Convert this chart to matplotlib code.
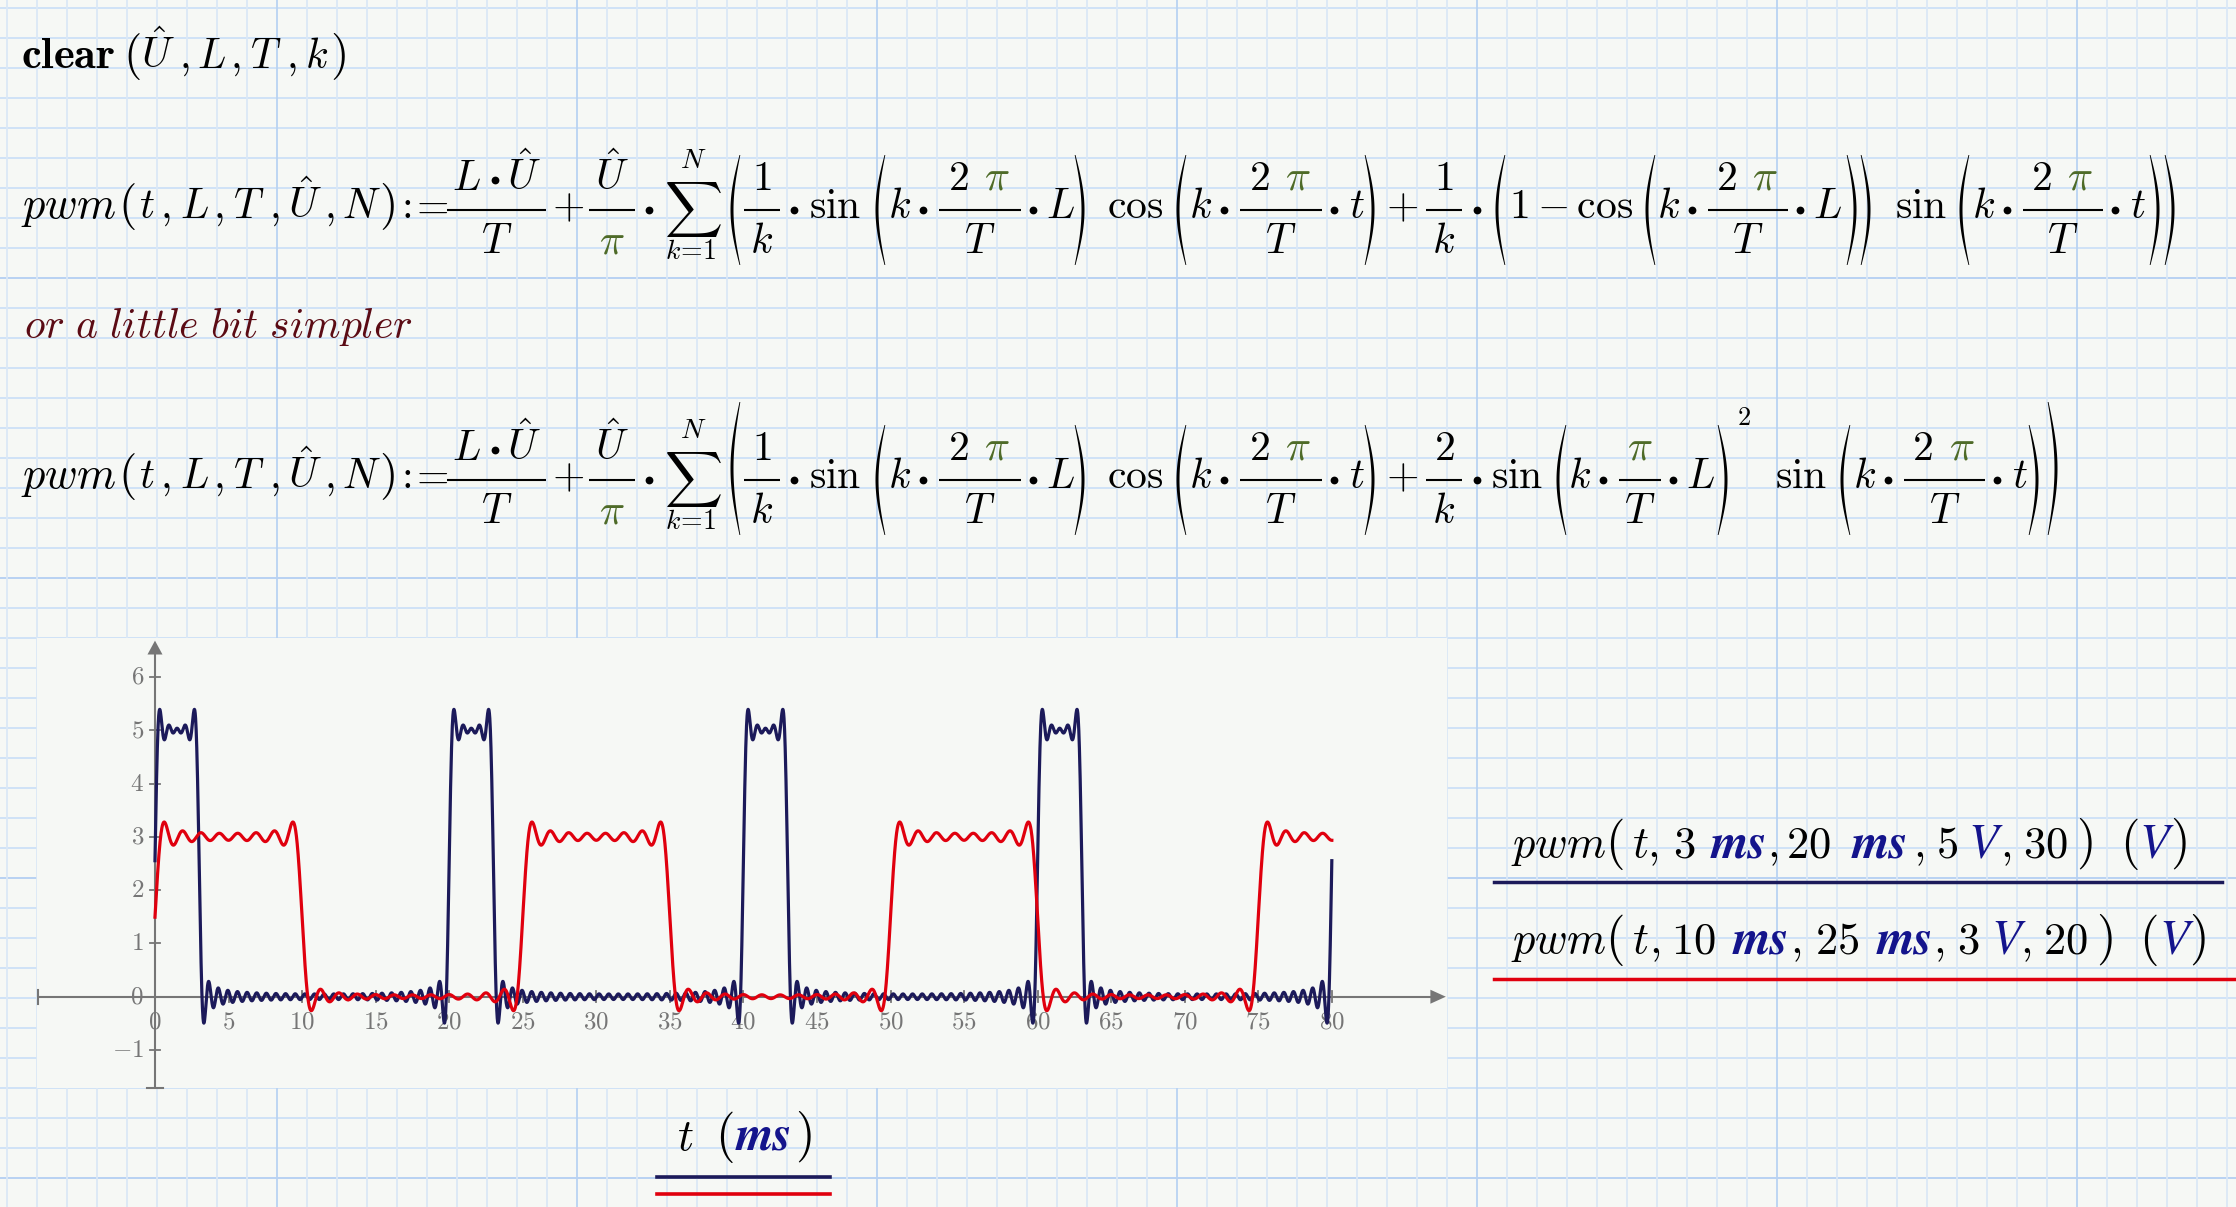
import numpy as np
import matplotlib.pyplot as plt

plt.rcParams['mathtext.fontset'] = 'cm'

# --- data: the two pwm curves as given in the worksheet legend ---
pulse_ms = [3, 10]        # L
period_ms = [20, 25]      # T
amp_V = [5, 3]            # U
harmonics = [30, 20]      # N
t_end_ms = 80
x_ticks = list(range(0, 85, 5))
y_ticks = list(range(-1, 7))

NAVY = '#1c1a5a'
RED = '#e0000e'
GREEN = '#4e6b28'
UNIT = '#14148c'
GRAY = '#767676'
BG = '#f6f8f5'
W, H = 2236, 1207
FS = 30


def pwm(t, L, T, U, N):
    k = np.arange(1, N + 1)[:, None]
    w = 2 * np.pi / T
    s = np.sin(k * w * L) / k * np.cos(k * w * t) + 2 / k * np.sin(k * np.pi / T * L) ** 2 * np.sin(k * w * t)
    return L * U / T + U / np.pi * s.sum(axis=0)


fig = plt.figure(figsize=(W / 100, H / 100), dpi=100, facecolor=BG)
ax0 = fig.add_axes([0, 0, 1, 1])
ax0.set_xlim(0, W)
ax0.set_ylim(H, 0)
ax0.axis('off')

# worksheet grid paper
for n in range(0, 41):
    y = 8.3 + 30 * n
    ax0.axhline(y, color='#b3cff2' if n % 10 == 9 else '#cde0f7', lw=1.3, zorder=0)
for n in range(0, 75):
    x = 7.3 + 30 * n
    ax0.axvline(x, color='#b9d3f2' if n % 10 == 9 else '#dbe8f6', lw=1.3, zorder=0)

uf = dict(family='STIXGeneral', style='italic', weight='bold')
vf = dict(family='STIXGeneral', style='italic')


def T_(x, y, s, c='black', fs=FS, ha='center', va='baseline', **kw):
    return ax0.text(x, y, s, color=c, fontsize=fs, ha=ha, va=va, **kw)


def seq(yb, items, fs=FS):
    # items: (x centre, text, kind)
    for x, s, kind in items:
        if kind == 'u':
            ax0.text(x, yb, s, color=UNIT, fontsize=fs + 3, ha='center', va='baseline', **uf)
        elif kind == 'v':
            ax0.text(x, yb, s, color=UNIT, fontsize=fs + 3, ha='center', va='baseline', **vf)
        elif kind == 'p':
            T_(x, yb, s, fs=fs + 4)
        else:
            T_(x, yb, s, fs=fs)


def dot(x, y):
    ax0.plot([x], [y], 'o', ms=5.6, color='black', mec='none')


def frac(x1, x2, ym, num, den):
    ax0.plot([x1, x2], [ym, ym], color='black', lw=1.5, solid_capstyle='butt')
    xc = (x1 + x2) / 2
    for dx, s, c in num:
        T_(xc + dx, ym - 20, s, c)
    for dx, s, c in den:
        T_(xc + dx, ym + 43, s, c)


def paren(xc, top, bot, side):
    s = np.linspace(0, 1, 80)
    y = top + s * (bot - top)
    b = np.sin(np.pi * s)
    th = 0.8 + 2.2 * b
    w = 9
    if side == '(':
        xo = xc + w / 2 - w * b
        xi = xo + th
    else:
        xo = xc - w / 2 + w * b
        xi = xo - th
    ax0.fill(np.r_[xo, xi[::-1]], np.r_[y, y[::-1]], color='black', lw=0)


TWO_PI = [(-22, '$2$', 'black'), (17, r'$\pi$', GREEN)]


def kgroup(x0, ym, num, bw, var):
    yb = ym + 8
    T_(x0 + 10, yb, '$k$')
    dot(x0 + 33, ym)
    b1 = x0 + 49
    b2 = b1 + bw
    frac(b1, b2, ym, num, [(0, '$T$', 'black')])
    dot(b2 + 12, ym)
    T_(b2 + 12 + (27 if var == 'L' else 23), yb, '$%s$' % var)


def head(ym, second):
    yb = ym + 8
    T_(21, yb, '$pwm$', fs=32, ha='left')
    seq(yb, [(127, '$($', 'p'), (147, '$t$', 'k'), (165, '$,$', 'k'), (194, '$L$', 'k'),
             (218, '$,$', 'k'), (249, '$T$', 'k'), (274, '$,$', 'k'), (305, r'$\hat{U}$', 'k'),
             (329, '$,$', 'k'), (361, '$N$', 'k'), (387, '$)$', 'p'), (403, '$:$', 'k'),
             (429, '$=$', 'k')])
    frac(447, 546, ym, [(-30, '$L$', 'black'), (27, r'$\hat{U}$', 'black')], [(0, '$T$', 'black')])
    dot(495, ym - 30)
    T_(568, yb, '$+$')
    frac(589, 635, ym, [(0, r'$\hat{U}$', 'black')], [(0, r'$\pi$', GREEN)])
    dot(649, ym)
    T_(693, ym, r'$\sum$', fs=29, va='center')
    T_(693, ym - 42, '$N$', fs=20)
    T_(691, ym + 49, r'$k\!=\!1$', fs=20)
    paren(735, ym - 78 if second else ym - 55, ym + 55, '(')
    frac(744, 780, ym, [(0, '$1$', 'black')], [(0, '$k$', 'black')])
    dot(794, ym)
    T_(835, yb, r'$\mathrm{sin}$')
    paren(880, ym - 55, ym + 55, '(')
    kgroup(890, ym, TWO_PI, 82, 'L')
    paren(1080, ym - 55, ym + 55, ')')
    T_(1135, yb, r'$\mathrm{cos}$')
    paren(1181, ym - 55, ym + 55, '(')
    kgroup(1191, ym, TWO_PI, 82, 't')
    paren(1370, ym - 55, ym + 55, ')')
    T_(1402, yb, '$+$')


# clear line
T_(21, 68, r'$\mathbf{clear}$', fs=32, ha='left')
seq(68, [(132, '$($', 'p'), (158, r'$\hat{U}$', 'k'), (184, '$,$', 'k'), (211, '$L$', 'k'),
         (235, '$,$', 'k'), (266, '$T$', 'k'), (291, '$,$', 'k'), (317, '$k$', 'k'),
         (338, '$)$', 'p')])

# first formula
ym = 210
head(ym, False)
frac(1426, 1462, ym, [(0, '$1$', 'black')], [(0, '$k$', 'black')])
dot(1477, ym)
paren(1500, ym - 55, ym + 55, '(')
T_(1509, ym + 8, r'$1-\mathrm{cos}$', ha='left')
paren(1650, ym - 55, ym + 55, '(')
kgroup(1659, ym, TWO_PI, 80, 'L')
paren(1852, ym - 55, ym + 55, ')')
paren(1866, ym - 55, ym + 55, ')')
T_(1921, ym + 8, r'$\mathrm{sin}$')
paren(1964, ym - 55, ym + 55, '(')
kgroup(1974, ym, TWO_PI, 80, 't')
paren(2155, ym - 55, ym + 55, ')')
paren(2170, ym - 55, ym + 55, ')')

T_(24, 338, r'$\mathit{or\ a\ little\ bit\ simpler}$', c='#5b0b14', ha='left')

# second formula
ym = 480
head(ym, True)
frac(1426, 1462, ym, [(0, '$2$', 'black')], [(0, '$k$', 'black')])
dot(1477, ym)
T_(1517, ym + 8, r'$\mathrm{sin}$')
paren(1561, ym - 55, ym + 55, '(')
kgroup(1570, ym, [(0, r'$\pi$', GREEN)], 42, 'L')
paren(1723, ym - 55, ym + 55, ')')
T_(1744, ym - 55, '$2$', fs=19)
T_(1801, ym + 8, r'$\mathrm{sin}$')
paren(1845, ym - 55, ym + 55, '(')
kgroup(1855, ym, TWO_PI, 81, 't')
paren(2034, ym - 55, ym + 55, ')')
paren(2053, ym - 78, ym + 55, ')')

# legend entries
LF = 32
seq(857, [(1559, '$pwm$', 'k'), (1614, '$($', 'p'), (1640, '$t$', 'k'), (1653, '$,$', 'k'),
          (1684, '$3$', 'k'), (1739, 'ms', 'u'), (1773, '$,$', 'k'), (1808, '$20$', 'k'),
          (1880, 'ms', 'u'), (1919, '$,$', 'k'), (1947, '$5$', 'k'), (1983, 'V', 'v'),
          (2006, '$,$', 'k'), (2045, '$30$', 'k'), (2084, '$)$', 'p'), (2129, '$($', 'p'),
          (2154, 'V', 'v'), (2178, '$)$', 'p')], fs=LF)
seq(953, [(1559, '$pwm$', 'k'), (1614, '$($', 'p'), (1640, '$t$', 'k'), (1655, '$,$', 'k'),
          (1693, '$10$', 'k'), (1761, 'ms', 'u'), (1796, '$,$', 'k'), (1837, '$25$', 'k'),
          (1905, 'ms', 'u'), (1939, '$,$', 'k'), (1968, '$3$', 'k'), (2006, 'V', 'v'),
          (2026, '$,$', 'k'), (2065, '$20$', 'k'), (2104, '$)$', 'p'), (2148, '$($', 'p'),
          (2174, 'V', 'v'), (2197, '$)$', 'p')], fs=LF)
ax0.plot([1494, 2222], [882, 882], color=NAVY, lw=2.5)
ax0.plot([1494, 2236], [979, 979], color=RED, lw=2.5)

# x label
seq(1150, [(685, '$t$', 'k'), (724, '$($', 'p'), (764, 'ms', 'u'), (803, '$)$', 'p')], fs=LF)
ax0.plot([657, 830], [1177, 1177], color=NAVY, lw=2.6)
ax0.plot([657, 830], [1194, 1194], color=RED, lw=2.6)

# --- the plot ---
axp = fig.add_axes([37.3 / W, 1 - 1088.3 / H, 1410 / W, 450 / H])
axp.set_facecolor(BG)
for sp in axp.spines.values():
    sp.set_visible(False)
axp.set_xticks([])
axp.set_yticks([])
x0, x1 = -8.0, 87.85
y0, y1 = -1.718, 6.724
axp.set_xlim(x0, x1)
axp.set_ylim(y0, y1)
px = (x1 - x0) / 1410
py = (y1 - y0) / 450

axp.plot([x0, 86.8], [0, 0], color=GRAY, lw=1.5, zorder=1)
axp.fill([86.7, 87.75, 86.7], [7 * py, 0, -7 * py], color=GRAY, lw=0, zorder=1)
axp.plot([0, 0], [-1.707, 6.45], color=GRAY, lw=1.5, zorder=1)
axp.fill([-7.5 * px, 0, 7.5 * px], [6.42, 6.68, 6.42], color=GRAY, lw=0, zorder=1)
axp.plot([x0 + 0.05, x0 + 0.05], [-7 * py, 7 * py], color=GRAY, lw=1.5, clip_on=False)
axp.plot([-8 * px, 8 * px], [-1.707, -1.707], color=GRAY, lw=1.5, clip_on=False)

for v in y_ticks:
    axp.plot([-5 * px, 5 * px], [v, v], color=GRAY, lw=1.3, zorder=1)
    axp.text(-11 * px, v, '$%d$' % v, color=GRAY, fontsize=18, ha='right', va='center')
for v in x_ticks:
    axp.plot([v, v], [-5.5 * py, 5.5 * py], color=GRAY, lw=1.3, zorder=1)
    axp.text(v, -13 * py, '$%d$' % v, color=GRAY, fontsize=18, ha='center', va='top')

t = np.linspace(0, t_end_ms, 6001)
for L, T, U, N, c in zip(pulse_ms, period_ms, amp_V, harmonics, [NAVY, RED]):
    axp.plot(t, pwm(t, L, T, U, N), color=c, lw=2.3, zorder=3)

fig.savefig('out.png', dpi=100, facecolor=BG)
